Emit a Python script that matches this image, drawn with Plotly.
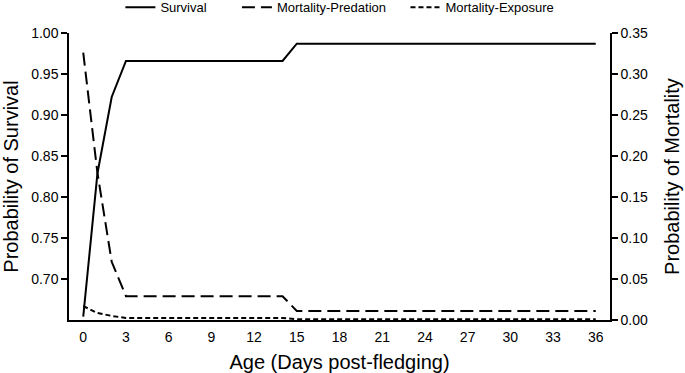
import plotly.graph_objects as go

days = [0, 1, 2, 3, 14, 15, 36]
survival = [0.654, 0.829, 0.922, 0.966, 0.966, 0.987, 0.987]
mort_predation = [0.326, 0.179, 0.071, 0.029, 0.029, 0.011, 0.011]
mort_exposure = [0.017, 0.0085, 0.005, 0.0024, 0.0024, 0.001, 0.001]

x_ticks = list(range(0, 37, 3))
left_ticks = [0.70, 0.75, 0.80, 0.85, 0.90, 0.95, 1.00]
right_ticks = [0.00, 0.05, 0.10, 0.15, 0.20, 0.25, 0.30, 0.35]

FONT = "Liberation Sans, Arial, sans-serif"
NB = "\u00a0"

fig = go.Figure()
fig.add_trace(go.Scatter(x=days, y=survival, name="Survival" + NB * 7, mode="lines",
                         line=dict(color="black", width=2, dash="solid"), yaxis="y"))
fig.add_trace(go.Scatter(x=days, y=mort_predation, name="Mortality-Predation" + NB * 4, mode="lines",
                         line=dict(color="black", width=2, dash="13px,6px"), yaxis="y2"))
fig.add_trace(go.Scatter(x=days, y=mort_exposure, name="Mortality-Exposure", mode="lines",
                         line=dict(color="black", width=2, dash="5px,3px"), yaxis="y2"))

fig.update_layout(
    width=685, height=373,
    margin=dict(l=69, r=75, t=33, b=53, autoexpand=False),
    paper_bgcolor="white", plot_bgcolor="white",
    font=dict(family=FONT, color="black", size=14),
    showlegend=True,
    legend=dict(orientation="h", x=0.095, y=1.142, xanchor="left", yanchor="top",
                font=dict(size=13, family=FONT), bgcolor="rgba(0,0,0,0)",
                itemwidth=30, tracegroupgap=0),
    xaxis=dict(range=[-1, 37], tickvals=x_ticks, ticktext=[str(t) for t in x_ticks],
               showgrid=False, zeroline=False, showline=True, linecolor="black", linewidth=1.5,
               ticks="", tickfont=dict(size=14), automargin=False, ticklabelstandoff=3,
               title=dict(text="Age (Days post-fledging)", font=dict(size=20), standoff=13)),
    yaxis=dict(range=[0.65, 1.0], tickvals=left_ticks, ticktext=[f"{t:.2f}" for t in left_ticks],
               showgrid=False, zeroline=False, showline=True, linecolor="black", linewidth=1.5,
               ticks="outside", ticklen=6, tickcolor="black", tickwidth=1.5, tickfont=dict(size=14),
               automargin=False,
               title=dict(text="Probability of Survival", font=dict(size=20), standoff=8)),
    yaxis2=dict(range=[0.0, 0.35], tickvals=right_ticks, ticktext=[f"{t:.2f}" for t in right_ticks],
                overlaying="y", side="right", automargin=False,
                showgrid=False, zeroline=False, showline=True, linecolor="black", linewidth=1.5,
                ticks="outside", ticklen=6, tickcolor="black", tickwidth=1.5, tickfont=dict(size=14),
                title=dict(text="Probability of Mortality", font=dict(size=20), standoff=18)),
)

fig.write_html("out.html",
               config={"displayModeBar": False},
               post_script="document.body.style.margin='0';document.body.style.padding='0';")
